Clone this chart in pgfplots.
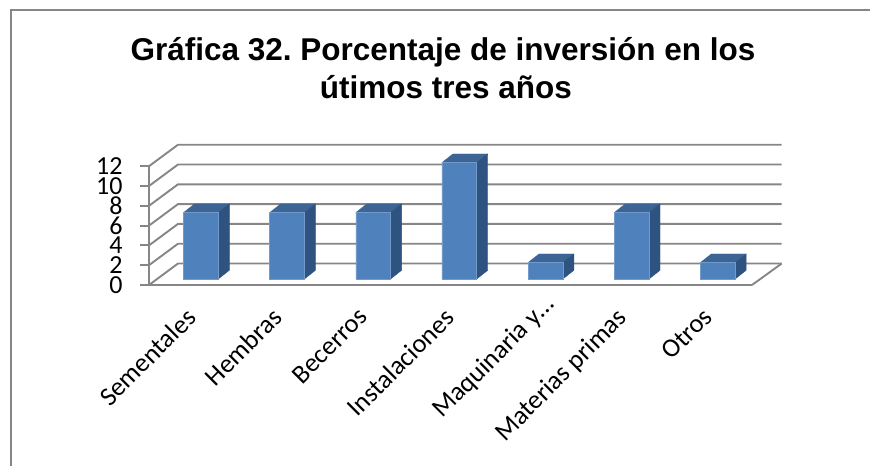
\documentclass[border=0pt]{standalone}
\usepackage{fontspec}
\setmainfont{Carlito}
\newfontfamily\titlefont{Liberation Sans}
\usepackage{pgfplots}
\pgfplotsset{compat=1.18}
\definecolor{gridc}{HTML}{868686}
\definecolor{barf}{HTML}{4F81BD}
\definecolor{bars}{HTML}{2F5380}
\definecolor{bart}{HTML}{3C6494}
\newcommand\threed[6]{%
 \addplot[fill=bart,draw=bart,line width=.4pt] coordinates {(#1,#5) (#2,#6) (#4,#6) (#3,#5) (#1,#5)};
 \addplot[fill=bars,draw=bars,line width=.4pt] coordinates {(#3,0) (#4,0.88) (#4,#6) (#3,#5) (#3,0)};
}
\newcommand\wallline[2]{%
 \addplot[gridc,line width=1.9pt] coordinates {(0,#1) (0.3367,#2) (7.345,#2)};
}
\begin{document}
\begin{tikzpicture}
\frenchspacing
\useasboundingbox (0,0) rectangle (870pt,466pt);
\draw[gridc,line width=2pt] (11pt,0) -- (11pt,455.5pt) -- (870pt,455.5pt);
\node[font=\titlefont\bfseries\fontsize{31.5}{38}\selectfont,anchor=base,inner sep=0pt] at (443pt,405pt) {Gráfica 32. Porcentaje de inversión en los};
\node[font=\titlefont\bfseries\fontsize{31.5}{38}\selectfont,anchor=base,inner sep=0pt] at (446pt,367.7pt) {útimos tres años};
\begin{axis}[
 at={(149pt,181pt)},anchor=south west,scale only axis,width=603pt,height=118.8pt,
 xmin=0,xmax=7,ymin=0,ymax=12,clip=false,
 axis x line*=bottom,axis y line*=left,
 axis line style={gridc,line width=1.9pt},
 ytick={0,2,4,6,8,10,12},
 xtick={0.5,1.5,2.5,3.5,4.5,5.5,6.5},
 xticklabels={Sementales,Hembras,Becerros,Instalaciones,{Maquinaria y…\kern-19pt},Materias primas,Otros},
 tick style={gridc,line width=1.9pt},
 major tick length=9pt,
 xtick style={draw=none},
 tick align=outside,
 tick label style={font=\fontsize{26}{26}\selectfont},
 yticklabel style={xshift=-14pt},
 /pgf/number format/assume math mode=true,
 xticklabel style={font=\fontsize{26.4}{26.4}\selectfont,rotate=45,anchor=north east,inner sep=0pt,xshift=-14pt,yshift=-3.5pt},
]
\wallline{0}{2.17}
\wallline{2}{4.17}
\wallline{4}{6.17}
\wallline{6}{8.17}
\wallline{8}{10.17}
\wallline{10}{12.17}
\wallline{12}{14.17}
\addplot[gridc,line width=1.9pt] coordinates {(7,0) (7.345,2.17)};
\end{axis}
\begin{axis}[
 at={(157.8pt,187pt)},anchor=south west,scale only axis,width=603pt,height=118.8pt,
 xmin=0,xmax=7,ymin=0,ymax=12,clip=false,
 hide axis,
]
\threed{0.298}{0.426}{0.702}{0.830}{6.7}{7.58}
\threed{1.298}{1.426}{1.702}{1.830}{6.7}{7.58}
\threed{2.298}{2.426}{2.702}{2.830}{6.7}{7.58}
\threed{3.298}{3.426}{3.702}{3.830}{11.75}{12.63}
\threed{4.298}{4.426}{4.702}{4.830}{1.65}{2.53}
\threed{5.298}{5.426}{5.702}{5.830}{6.7}{7.58}
\threed{6.298}{6.426}{6.702}{6.830}{1.65}{2.53}
\addplot[ybar,bar width=34.8pt,fill=barf,draw=barf!80!white,line width=.5pt] coordinates {(0.5,6.7) (1.5,6.7) (2.5,6.7) (3.5,11.75) (4.5,1.65) (5.5,6.7) (6.5,1.65)};
\end{axis}
\end{tikzpicture}
\end{document}
